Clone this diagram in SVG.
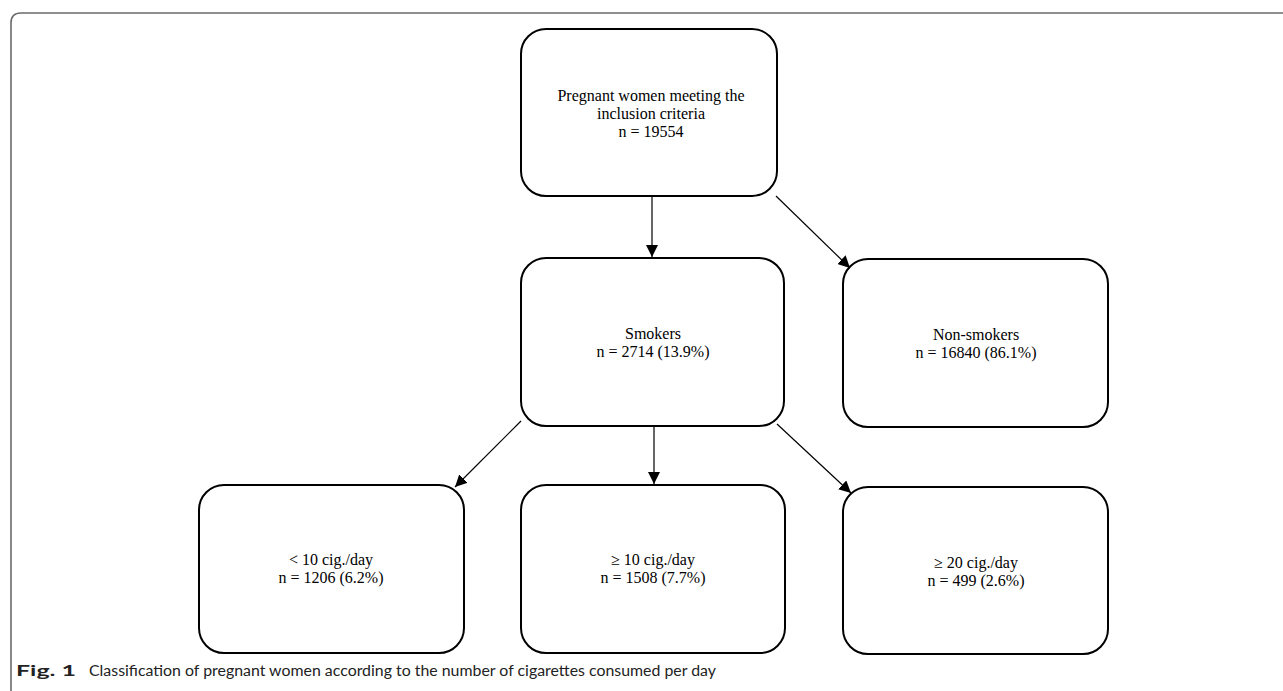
<svg xmlns="http://www.w3.org/2000/svg" width="1283" height="691" viewBox="0 0 1283 691">
<style>
.box{fill:#fff;stroke:#000;stroke-width:2}
.lbl{font-family:"Liberation Serif","Times New Roman",serif;font-size:16px;fill:#000;text-anchor:middle}
.con{stroke:#000;stroke-width:1.2;fill:none}
.frame{fill:none;stroke:#6b6b6b;stroke-width:1.6}
.cap{font-family:Lato,"Open Sans",sans-serif;font-size:15.5px;fill:#222}
</style>
<defs>
<marker id="arr" markerUnits="userSpaceOnUse" viewBox="0 0 12 12" refX="12" refY="6" markerWidth="12" markerHeight="12" orient="auto">
<path d="M0,0 L12,6 L0,12 Z" fill="#000"/>
</marker>
</defs>
<rect width="1283" height="691" fill="#fff"/>
<path class="frame" d="M11,691 L11,23 Q11,13 21,13 L1283,13"/>
<g id="n-top">
<rect class="box" x="521" y="29" width="256" height="167" rx="25"/>
<text class="lbl" x="651" y="101">Pregnant women meeting the</text>
<text class="lbl" x="651" y="119">inclusion criteria</text>
<text class="lbl" x="651" y="137">n = 19554</text>
</g>
<g id="n-smokers">
<rect class="box" x="521" y="258" width="263" height="168" rx="25"/>
<text class="lbl" x="653" y="339">Smokers</text>
<text class="lbl" x="653" y="357">n = 2714 (13.9%)</text>
</g>
<g id="n-nonsmokers">
<rect class="box" x="843" y="259" width="265" height="168" rx="25"/>
<text class="lbl" x="976" y="340">Non-smokers</text>
<text class="lbl" x="976" y="358">n = 16840 (86.1%)</text>
</g>
<g id="n-lt10">
<rect class="box" x="199" y="485" width="265" height="168" rx="25"/>
<text class="lbl" x="331" y="565">&lt; 10 cig./day</text>
<text class="lbl" x="331" y="583">n = 1206 (6.2%)</text>
</g>
<g id="n-ge10">
<rect class="box" x="521" y="485" width="264" height="168" rx="25"/>
<text class="lbl" x="653" y="565">≥ 10 cig./day</text>
<text class="lbl" x="653" y="583">n = 1508 (7.7%)</text>
</g>
<g id="n-ge20">
<rect class="box" x="843" y="487" width="265" height="167" rx="25"/>
<text class="lbl" x="976" y="568">≥ 20 cig./day</text>
<text class="lbl" x="976" y="586">n = 499 (2.6%)</text>
</g>
<g id="connectors">
<line class="con" x1="652" y1="197" x2="652" y2="257" marker-end="url(#arr)"/>
<line class="con" x1="776" y1="196" x2="850" y2="268" marker-end="url(#arr)"/>
<line class="con" x1="521" y1="421" x2="455" y2="487" marker-end="url(#arr)"/>
<line class="con" x1="654" y1="427" x2="654" y2="484" marker-end="url(#arr)"/>
<line class="con" x1="777" y1="424" x2="851" y2="493" marker-end="url(#arr)"/>
</g>
<text class="cap" x="16" y="676" font-weight="bold" textLength="60" lengthAdjust="spacingAndGlyphs">Fig. 1</text>
<text class="cap" x="89" y="676" textLength="627" lengthAdjust="spacingAndGlyphs">Classification of pregnant women according to the number of cigarettes consumed per day</text>
</svg>
